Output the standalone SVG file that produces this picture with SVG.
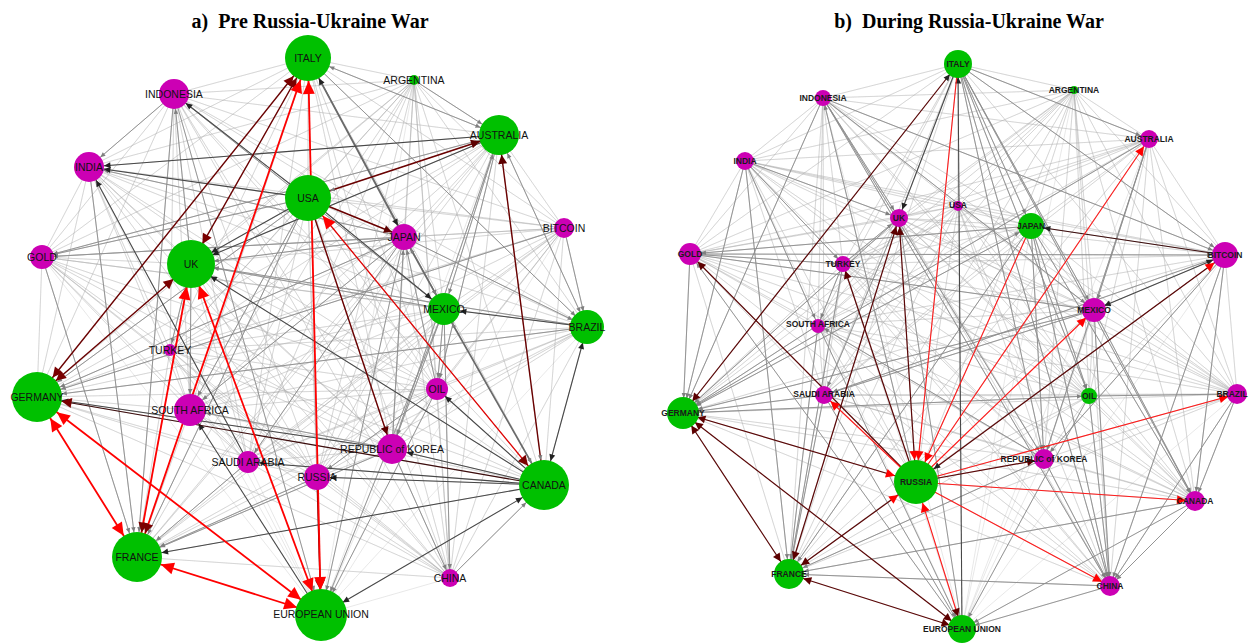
<svg xmlns="http://www.w3.org/2000/svg" width="1250" height="643" viewBox="0 0 1250 643">
<style>
  .title { font-family: "Liberation Serif", "Times New Roman", serif; font-weight: bold; font-size: 20px; fill: #000; text-anchor: middle; }
  .mesh { fill: none; stroke: #a8a8a8; stroke-opacity: 0.45; stroke-width: 0.6; stroke-linejoin: round; }
  line { fill: none; }
  .g  { stroke: #8c8c8c; stroke-width: 0.9; }
  .g2 { stroke: #6a6a6a; stroke-width: 1.6; }
  .k  { stroke: #474747; stroke-width: 1.05; }
  .d  { stroke: #6a0000; stroke-width: 1.4; }
  .d2 { stroke: #3c0c0c; stroke-width: 1.2; }
  .r  { stroke: #ff0000; stroke-width: 1.8; }
  .rt { stroke: #e00000; stroke-width: 1.3; }
  .s  { stroke: #ff1a1a; stroke-width: 1.1; }
  .ds { stroke: #5a0606; stroke-width: 1.2; }
  .gn { fill: #00c000; }
  .mg { fill: #cc00b4; }
  .la { font-family: "Liberation Sans", Arial, sans-serif; font-size: 10.5px; fill: #111; text-anchor: middle; }
  .lb { font-family: "Liberation Sans", Arial, sans-serif; font-size: 8.5px; font-weight: bold; fill: #1a1a1a; text-anchor: middle; }
</style>
<defs>
  <!-- arrowheads: tip sits N px back from the line end, N = radius of the target node -->
  <marker id="g7"  markerUnits="userSpaceOnUse" orient="auto-start-reverse" overflow="visible"><path d="M-12 -2.2L-7 0L-12 2.2z" fill="#7f7f7f"/></marker>
  <marker id="g9"  markerUnits="userSpaceOnUse" orient="auto-start-reverse" overflow="visible"><path d="M-14 -2.2L-9 0L-14 2.2z" fill="#7f7f7f"/></marker>
  <marker id="g11" markerUnits="userSpaceOnUse" orient="auto-start-reverse" overflow="visible"><path d="M-16 -2.2L-11 0L-16 2.2z" fill="#7f7f7f"/></marker>
  <marker id="g13" markerUnits="userSpaceOnUse" orient="auto-start-reverse" overflow="visible"><path d="M-18 -2.2L-13 0L-18 2.2z" fill="#7f7f7f"/></marker>
  <marker id="g15" markerUnits="userSpaceOnUse" orient="auto-start-reverse" overflow="visible"><path d="M-20 -2.2L-15 0L-20 2.2z" fill="#7f7f7f"/></marker>
  <marker id="g16" markerUnits="userSpaceOnUse" orient="auto-start-reverse" overflow="visible"><path d="M-21 -2.2L-16 0L-21 2.2z" fill="#7f7f7f"/></marker>
  <marker id="g20" markerUnits="userSpaceOnUse" orient="auto-start-reverse" overflow="visible"><path d="M-25 -2.2L-20 0L-25 2.2z" fill="#7f7f7f"/></marker>
  <marker id="g23" markerUnits="userSpaceOnUse" orient="auto-start-reverse" overflow="visible"><path d="M-28 -2.2L-23 0L-28 2.2z" fill="#7f7f7f"/></marker>
  <marker id="g25" markerUnits="userSpaceOnUse" orient="auto-start-reverse" overflow="visible"><path d="M-30 -2.2L-25 0L-30 2.2z" fill="#7f7f7f"/></marker>
  <marker id="k9"  markerUnits="userSpaceOnUse" orient="auto-start-reverse" overflow="visible"><path d="M-15.5 -3L-9 0L-15.5 3z" fill="#222"/></marker>
  <marker id="k11" markerUnits="userSpaceOnUse" orient="auto-start-reverse" overflow="visible"><path d="M-17.5 -3L-11 0L-17.5 3z" fill="#222"/></marker>
  <marker id="k13" markerUnits="userSpaceOnUse" orient="auto-start-reverse" overflow="visible"><path d="M-19.5 -3L-13 0L-19.5 3z" fill="#222"/></marker>
  <marker id="k15" markerUnits="userSpaceOnUse" orient="auto-start-reverse" overflow="visible"><path d="M-21.5 -3L-15 0L-21.5 3z" fill="#222"/></marker>
  <marker id="k16" markerUnits="userSpaceOnUse" orient="auto-start-reverse" overflow="visible"><path d="M-22.5 -3L-16 0L-22.5 3z" fill="#222"/></marker>
  <marker id="k22" markerUnits="userSpaceOnUse" orient="auto-start-reverse" overflow="visible"><path d="M-28.5 -3L-22 0L-28.5 3z" fill="#222"/></marker>
  <marker id="k23" markerUnits="userSpaceOnUse" orient="auto-start-reverse" overflow="visible"><path d="M-29.5 -3L-23 0L-29.5 3z" fill="#222"/></marker>
  <marker id="k25" markerUnits="userSpaceOnUse" orient="auto-start-reverse" overflow="visible"><path d="M-31.5 -3L-25 0L-31.5 3z" fill="#222"/></marker>
  <marker id="d7"  markerUnits="userSpaceOnUse" orient="auto-start-reverse" overflow="visible"><path d="M-15 -4L-7 0L-15 4z" fill="#5c0000"/></marker>
  <marker id="d9"  markerUnits="userSpaceOnUse" orient="auto-start-reverse" overflow="visible"><path d="M-17 -4L-9 0L-17 4z" fill="#5c0000"/></marker>
  <marker id="d11" markerUnits="userSpaceOnUse" orient="auto-start-reverse" overflow="visible"><path d="M-19 -4L-11 0L-19 4z" fill="#5c0000"/></marker>
  <marker id="d13" markerUnits="userSpaceOnUse" orient="auto-start-reverse" overflow="visible"><path d="M-21 -4L-13 0L-21 4z" fill="#5c0000"/></marker>
  <marker id="d15" markerUnits="userSpaceOnUse" orient="auto-start-reverse" overflow="visible"><path d="M-23 -4L-15 0L-23 4z" fill="#5c0000"/></marker>
  <marker id="d20" markerUnits="userSpaceOnUse" orient="auto-start-reverse" overflow="visible"><path d="M-29 -4.5L-20 0L-29 4.5z" fill="#5c0000"/></marker>
  <marker id="d23" markerUnits="userSpaceOnUse" orient="auto-start-reverse" overflow="visible"><path d="M-33 -5L-23 0L-33 5z" fill="#7a0000"/></marker>
  <marker id="d25" markerUnits="userSpaceOnUse" orient="auto-start-reverse" overflow="visible"><path d="M-35 -5L-25 0L-35 5z" fill="#7a0000"/></marker>
  <marker id="r23" markerUnits="userSpaceOnUse" orient="auto-start-reverse" overflow="visible"><path d="M-36 -6L-23 0L-36 6z" fill="#ff0000"/></marker>
  <marker id="r25" markerUnits="userSpaceOnUse" orient="auto-start-reverse" overflow="visible"><path d="M-38 -6L-25 0L-38 6z" fill="#ff0000"/></marker>
  <marker id="s9"  markerUnits="userSpaceOnUse" orient="auto-start-reverse" overflow="visible"><path d="M-18 -4.5L-9 0L-18 4.5z" fill="#ff0000"/></marker>
  <marker id="s11" markerUnits="userSpaceOnUse" orient="auto-start-reverse" overflow="visible"><path d="M-20 -4.5L-11 0L-20 4.5z" fill="#ff0000"/></marker>
  <marker id="s13" markerUnits="userSpaceOnUse" orient="auto-start-reverse" overflow="visible"><path d="M-22 -4.5L-13 0L-22 4.5z" fill="#ff0000"/></marker>
  <marker id="s22" markerUnits="userSpaceOnUse" orient="auto-start-reverse" overflow="visible"><path d="M-31 -4.5L-22 0L-31 4.5z" fill="#ff0000"/></marker>
</defs>

<rect width="1250" height="643" fill="#fff"/>

<text class="title" x="310" y="28" xml:space="preserve">a)  Pre Russia-Ukraine War</text>
<text class="title" x="969" y="28" xml:space="preserve">b)  During Russia-Ukraine War</text>

<!-- ===== panel a: connectors ===== -->
<g id="edges-a">
  <path class="mesh" d="M308 58L174 94 308 58 414 80 308 58 499 135 308 58 89 167 308 58 308 198 308 58 564 228 308 58 404 237 308 58 42 257 308 58 191 264 308 58 444 309 308 58 587 327 308 58 170 350 308 58 437 389 308 58 37 397 308 58 190 410 308 58 392 449 308 58 248 462 308 58 317 477 308 58 544 485 308 58 137 557 308 58 450 578 308 58 321 615"/>
  <path class="mesh" d="M174 94L414 80 174 94 499 135 174 94 89 167 174 94 308 198 174 94 564 228 174 94 404 237 174 94 42 257 174 94 191 264 174 94 444 309 174 94 587 327 174 94 170 350 174 94 437 389 174 94 37 397 174 94 190 410 174 94 392 449 174 94 248 462 174 94 317 477 174 94 544 485 174 94 137 557 174 94 450 578 174 94 321 615"/>
  <path class="mesh" d="M414 80L499 135 414 80 89 167 414 80 308 198 414 80 564 228 414 80 404 237 414 80 42 257 414 80 191 264 414 80 444 309 414 80 587 327 414 80 170 350 414 80 437 389 414 80 37 397 414 80 190 410 414 80 392 449 414 80 248 462 414 80 317 477 414 80 544 485 414 80 137 557 414 80 450 578 414 80 321 615"/>
  <path class="mesh" d="M499 135L89 167 499 135 308 198 499 135 564 228 499 135 404 237 499 135 42 257 499 135 191 264 499 135 444 309 499 135 587 327 499 135 170 350 499 135 437 389 499 135 37 397 499 135 190 410 499 135 392 449 499 135 248 462 499 135 317 477 499 135 544 485 499 135 137 557 499 135 450 578 499 135 321 615"/>
  <path class="mesh" d="M89 167L308 198 89 167 564 228 89 167 404 237 89 167 42 257 89 167 191 264 89 167 444 309 89 167 587 327 89 167 170 350 89 167 437 389 89 167 37 397 89 167 190 410 89 167 392 449 89 167 248 462 89 167 317 477 89 167 544 485 89 167 137 557 89 167 450 578 89 167 321 615"/>
  <path class="mesh" d="M308 198L564 228 308 198 404 237 308 198 42 257 308 198 191 264 308 198 444 309 308 198 587 327 308 198 170 350 308 198 437 389 308 198 37 397 308 198 190 410 308 198 392 449 308 198 248 462 308 198 317 477 308 198 544 485 308 198 137 557 308 198 450 578 308 198 321 615"/>
  <path class="mesh" d="M564 228L404 237 564 228 42 257 564 228 191 264 564 228 444 309 564 228 587 327 564 228 170 350 564 228 437 389 564 228 37 397 564 228 190 410 564 228 392 449 564 228 248 462 564 228 317 477 564 228 544 485 564 228 137 557 564 228 450 578 564 228 321 615"/>
  <path class="mesh" d="M404 237L42 257 404 237 191 264 404 237 444 309 404 237 587 327 404 237 170 350 404 237 437 389 404 237 37 397 404 237 190 410 404 237 392 449 404 237 248 462 404 237 317 477 404 237 544 485 404 237 137 557 404 237 450 578 404 237 321 615"/>
  <path class="mesh" d="M42 257L191 264 42 257 444 309 42 257 587 327 42 257 170 350 42 257 437 389 42 257 37 397 42 257 190 410 42 257 392 449 42 257 248 462 42 257 317 477 42 257 544 485 42 257 137 557 42 257 450 578 42 257 321 615"/>
  <path class="mesh" d="M191 264L444 309 191 264 587 327 191 264 170 350 191 264 437 389 191 264 37 397 191 264 190 410 191 264 392 449 191 264 248 462 191 264 317 477 191 264 544 485 191 264 137 557 191 264 450 578 191 264 321 615"/>
  <path class="mesh" d="M444 309L587 327 444 309 170 350 444 309 437 389 444 309 37 397 444 309 190 410 444 309 392 449 444 309 248 462 444 309 317 477 444 309 544 485 444 309 137 557 444 309 450 578 444 309 321 615"/>
  <path class="mesh" d="M587 327L170 350 587 327 437 389 587 327 37 397 587 327 190 410 587 327 392 449 587 327 248 462 587 327 317 477 587 327 544 485 587 327 137 557 587 327 450 578 587 327 321 615"/>
  <path class="mesh" d="M170 350L437 389 170 350 37 397 170 350 190 410 170 350 392 449 170 350 248 462 170 350 317 477 170 350 544 485 170 350 137 557 170 350 450 578 170 350 321 615"/>
  <path class="mesh" d="M437 389L37 397 437 389 190 410 437 389 392 449 437 389 248 462 437 389 317 477 437 389 544 485 437 389 137 557 437 389 450 578 437 389 321 615"/>
  <path class="mesh" d="M37 397L190 410 37 397 392 449 37 397 248 462 37 397 317 477 37 397 544 485 37 397 137 557 37 397 450 578 37 397 321 615"/>
  <path class="mesh" d="M190 410L392 449 190 410 248 462 190 410 317 477 190 410 544 485 190 410 137 557 190 410 450 578 190 410 321 615"/>
  <path class="mesh" d="M392 449L248 462 392 449 317 477 392 449 544 485 392 449 137 557 392 449 450 578 392 449 321 615"/>
  <path class="mesh" d="M248 462L317 477 248 462 544 485 248 462 137 557 248 462 450 578 248 462 321 615"/>
  <path class="mesh" d="M317 477L544 485 317 477 137 557 317 477 450 578 317 477 321 615"/>
  <path class="mesh" d="M544 485L137 557 544 485 450 578 544 485 321 615 M137 557L450 578 137 557 321 615 M450 578L321 615"/>

  <line class="g" x1="308" y1="58" x2="499" y2="135" marker-start="url(#g23)" marker-end="url(#g20)"/>
  <line class="g" x1="308" y1="58" x2="587" y2="327" marker-end="url(#g16)"/>
  <line class="g" x1="414" y1="80" x2="499" y2="135" marker-end="url(#g20)"/>
  <line class="g" x1="499" y1="135" x2="587" y2="327" marker-start="url(#g20)" marker-end="url(#g16)"/>
  <line class="g" x1="499" y1="135" x2="444" y2="309" marker-start="url(#g20)" marker-end="url(#g16)"/>
  <line class="g" x1="499" y1="135" x2="392" y2="449" marker-end="url(#g15)"/>
  <line class="g" x1="499" y1="135" x2="437" y2="389" marker-end="url(#g11)"/>
  <line class="g" x1="564" y1="228" x2="587" y2="327" marker-end="url(#g16)"/>
  <line class="g" x1="404" y1="237" x2="587" y2="327" marker-end="url(#g16)"/>
  <line class="g" x1="444" y1="309" x2="437" y2="389" marker-end="url(#g11)"/>
  <line class="g" x1="587" y1="327" x2="37" y2="397" marker-end="url(#g25)"/>
  <line class="g" x1="587" y1="327" x2="191" y2="264" marker-end="url(#g23)"/>
  <line class="g" x1="450" y1="578" x2="544" y2="485" marker-end="url(#g25)"/>
  <line class="g" x1="392" y1="449" x2="450" y2="578" marker-end="url(#g9)"/>
  <line class="g" x1="444" y1="309" x2="321" y2="615" marker-end="url(#g25)"/>
  <line class="g" x1="437" y1="389" x2="321" y2="615" marker-end="url(#g25)"/>
  <line class="g" x1="248" y1="462" x2="137" y2="557" marker-end="url(#g25)"/>
  <line class="g" x1="392" y1="449" x2="137" y2="557" marker-end="url(#g25)"/>
  <line class="g" x1="317" y1="477" x2="137" y2="557" marker-end="url(#g25)"/>
  <line class="g" x1="308" y1="198" x2="37" y2="397" marker-end="url(#g25)"/>
  <line class="g" x1="404" y1="237" x2="37" y2="397" marker-end="url(#g25)"/>
  <line class="g" x1="404" y1="237" x2="42" y2="257" marker-end="url(#g11)"/>
  <line class="g" x1="308" y1="198" x2="42" y2="257" marker-end="url(#g11)"/>
  <line class="g" x1="499" y1="135" x2="42" y2="257" marker-end="url(#g11)"/>
  <line class="g" x1="404" y1="237" x2="89" y2="167" marker-end="url(#g15)"/>
  <line class="g" x1="191" y1="264" x2="190" y2="410" marker-end="url(#g16)"/>
  <line class="g" x1="308" y1="198" x2="190" y2="410" marker-end="url(#g16)"/>
  <line class="g" x1="404" y1="237" x2="190" y2="410" marker-end="url(#g16)"/>
  <line class="g" x1="392" y1="449" x2="404" y2="237" marker-end="url(#g13)"/>
  <line class="g" x1="437" y1="389" x2="404" y2="237" marker-end="url(#g13)"/>
  <line class="g" x1="444" y1="309" x2="191" y2="264" marker-end="url(#g23)"/>
  <line class="g" x1="404" y1="237" x2="191" y2="264" marker-end="url(#g23)"/>
  <line class="g" x1="444" y1="309" x2="392" y2="449" marker-end="url(#g15)"/>
  <line class="g" x1="191" y1="264" x2="170" y2="350" marker-end="url(#g7)"/>
  <line class="g" x1="42" y1="257" x2="137" y2="557" marker-end="url(#g25)"/>
  <line class="g" x1="89" y1="167" x2="137" y2="557" marker-end="url(#g25)"/>
  <line class="g" x1="174" y1="94" x2="137" y2="557" marker-end="url(#g25)"/>
  <line class="g" x1="174" y1="94" x2="321" y2="615" marker-end="url(#g25)"/>
  <line class="g" x1="308" y1="198" x2="137" y2="557" marker-end="url(#g25)"/>
  <line class="g" x1="564" y1="228" x2="37" y2="397" marker-end="url(#g25)"/>
  <line class="g" x1="308" y1="58" x2="444" y2="309" marker-end="url(#g16)"/>
  <line class="g" x1="174" y1="94" x2="89" y2="167" marker-end="url(#g15)"/>
  <line class="g" x1="392" y1="449" x2="190" y2="410" marker-end="url(#g16)"/>
  <line class="g" x1="404" y1="237" x2="248" y2="462" marker-end="url(#g11)"/>
  <line class="g" x1="437" y1="389" x2="317" y2="477" marker-end="url(#g13)"/>
  <line class="g" x1="404" y1="237" x2="321" y2="615" marker-end="url(#g25)"/>
  <line class="g" x1="444" y1="309" x2="450" y2="578" marker-end="url(#g9)"/>
  <line class="g" x1="191" y1="264" x2="174" y2="94" marker-end="url(#g15)"/>
  <line class="g" x1="444" y1="309" x2="174" y2="94" marker-end="url(#g15)"/>
  <line class="g2" x1="444" y1="309" x2="544" y2="485" marker-start="url(#g16)" marker-end="url(#g25)"/>
  <line class="g2" x1="404" y1="237" x2="444" y2="309" marker-start="url(#g13)" marker-end="url(#g16)"/>
  <line class="g2" x1="308" y1="58" x2="404" y2="237" marker-start="url(#k23)" marker-end="url(#k13)"/>

  <line class="k" x1="544" y1="485" x2="137" y2="557" marker-end="url(#k25)"/>
  <line class="k" x1="321" y1="615" x2="544" y2="485" marker-start="url(#k25)" marker-end="url(#k25)"/>
  <line class="k" x1="587" y1="327" x2="544" y2="485" marker-start="url(#k16)" marker-end="url(#k25)"/>
  <line class="k" x1="308" y1="198" x2="444" y2="309" marker-end="url(#k16)"/>
  <line class="k" x1="308" y1="198" x2="191" y2="264" marker-end="url(#k23)"/>
  <line class="k" x1="499" y1="135" x2="191" y2="264" marker-end="url(#k23)"/>
  <line class="k" x1="308" y1="198" x2="174" y2="94" marker-end="url(#k15)"/>
  <line class="k" x1="308" y1="198" x2="89" y2="167" marker-end="url(#k15)"/>
  <line class="k" x1="499" y1="135" x2="89" y2="167" marker-end="url(#k15)"/>
  <line class="k" x1="544" y1="485" x2="392" y2="449" marker-end="url(#k15)"/>
  <line class="k" x1="544" y1="485" x2="317" y2="477" marker-end="url(#k13)"/>
  <line class="k" x1="544" y1="485" x2="248" y2="462" marker-end="url(#k11)"/>
  <line class="k" x1="392" y1="449" x2="37" y2="397" marker-end="url(#k25)"/>
  <line class="k" x1="321" y1="615" x2="190" y2="410" marker-end="url(#k16)"/>
  <line class="k" x1="544" y1="485" x2="437" y2="389" marker-end="url(#k11)"/>
  <line class="k" x1="587" y1="327" x2="444" y2="309" marker-end="url(#k16)"/>
  <line class="k" x1="544" y1="485" x2="191" y2="264" marker-end="url(#k23)"/>
  <line class="k" x1="248" y1="462" x2="89" y2="167" marker-end="url(#k15)"/>

  <line class="d" x1="37" y1="397" x2="308" y2="58" marker-start="url(#d25)" marker-end="url(#d23)"/>
  <line class="d" x1="37" y1="397" x2="191" y2="264" marker-start="url(#d25)" marker-end="url(#d23)"/>
  <line class="d" x1="308" y1="58" x2="191" y2="264" marker-start="url(#d23)" marker-end="url(#d23)"/>
  <line class="d" x1="308" y1="198" x2="499" y2="135" marker-start="url(#g23)" marker-end="url(#d20)"/>
  <line class="d" x1="308" y1="198" x2="404" y2="237" marker-end="url(#d13)"/>
  <line class="d" x1="308" y1="198" x2="392" y2="449" marker-end="url(#d15)"/>
  <line class="d" x1="544" y1="485" x2="499" y2="135" marker-start="url(#g25)" marker-end="url(#d20)"/>
  <line class="d" x1="317" y1="477" x2="321" y2="615" marker-end="url(#d25)"/>
  <line class="d2" x1="544" y1="485" x2="37" y2="397" marker-end="url(#d25)"/>

  <line class="rt" x1="308" y1="198" x2="544" y2="485" marker-start="url(#r23)" marker-end="url(#d25)"/>
  <line class="r" x1="37" y1="397" x2="137" y2="557" marker-start="url(#r25)" marker-end="url(#r25)"/>
  <line class="r" x1="37" y1="397" x2="321" y2="615" marker-start="url(#r25)" marker-end="url(#r25)"/>
  <line class="r" x1="137" y1="557" x2="321" y2="615" marker-start="url(#r25)" marker-end="url(#r25)"/>
  <line class="r" x1="191" y1="264" x2="321" y2="615" marker-start="url(#r23)" marker-end="url(#r25)"/>
  <line class="r" x1="137" y1="557" x2="191" y2="264" marker-start="url(#d25)" marker-end="url(#r23)"/>
  <line class="r" x1="137" y1="557" x2="308" y2="58" marker-start="url(#d25)" marker-end="url(#r23)"/>
  <line class="r" x1="308" y1="58" x2="321" y2="615" marker-start="url(#r23)" marker-end="url(#r25)"/>
</g>

<!-- ===== panel a: nodes ===== -->
<g id="a-italy"><circle class="gn" cx="308" cy="58" r="23"/><text class="la" x="308" y="62">ITALY</text></g>
<g id="a-indonesia"><circle class="mg" cx="174" cy="94" r="15"/><text class="la" x="174" y="98">INDONESIA</text></g>
<g id="a-argentina"><circle class="gn" cx="414" cy="80" r="5"/><text class="la" x="414" y="84">ARGENTINA</text></g>
<g id="a-australia"><circle class="gn" cx="499" cy="135" r="20"/><text class="la" x="499" y="139">AUSTRALIA</text></g>
<g id="a-india"><circle class="mg" cx="89" cy="167" r="15"/><text class="la" x="89" y="171">INDIA</text></g>
<g id="a-usa"><circle class="gn" cx="308" cy="198" r="23"/><text class="la" x="308" y="202">USA</text></g>
<g id="a-bitcoin"><circle class="mg" cx="564" cy="228" r="10"/><text class="la" x="564" y="232">BITCOIN</text></g>
<g id="a-japan"><circle class="mg" cx="404" cy="237" r="13"/><text class="la" x="404" y="241">JAPAN</text></g>
<g id="a-gold"><circle class="mg" cx="42" cy="257" r="12"/><text class="la" x="42" y="261">GOLD</text></g>
<g id="a-uk"><circle class="gn" cx="191" cy="264" r="24"/><text class="la" x="191" y="268">UK</text></g>
<g id="a-mexico"><circle class="gn" cx="444" cy="309" r="16"/><text class="la" x="444" y="313">MEXICO</text></g>
<g id="a-brazil"><circle class="gn" cx="587" cy="327" r="17"/><text class="la" x="587" y="331">BRAZIL</text></g>
<g id="a-turkey"><circle class="mg" cx="170" cy="350" r="6"/><text class="la" x="170" y="354">TURKEY</text></g>
<g id="a-oil"><circle class="mg" cx="437" cy="389" r="11"/><text class="la" x="437" y="393">OIL</text></g>
<g id="a-germany"><circle class="gn" cx="37" cy="397" r="25"/><text class="la" x="37" y="401">GERMANY</text></g>
<g id="a-south-africa"><circle class="mg" cx="190" cy="410" r="16"/><text class="la" x="190" y="414">SOUTH AFRICA</text></g>
<g id="a-korea"><circle class="mg" cx="392" cy="449" r="15"/><text class="la" x="392" y="453">REPUBLIC of KOREA</text></g>
<g id="a-saudi-arabia"><circle class="mg" cx="248" cy="462" r="11"/><text class="la" x="248" y="466">SAUDI ARABIA</text></g>
<g id="a-russia"><circle class="mg" cx="317" cy="477" r="13"/><text class="la" x="317" y="481">RUSSIA</text></g>
<g id="a-canada"><circle class="gn" cx="544" cy="485" r="25"/><text class="la" x="544" y="489">CANADA</text></g>
<g id="a-france"><circle class="gn" cx="137" cy="557" r="25"/><text class="la" x="137" y="561">FRANCE</text></g>
<g id="a-china"><circle class="mg" cx="450" cy="578" r="9"/><text class="la" x="450" y="582">CHINA</text></g>
<g id="a-eu"><circle class="gn" cx="321" cy="615" r="26"/><text class="la" x="321" y="618">EUROPEAN UNION</text></g>

<!-- ===== panel b: connectors ===== -->
<g id="edges-b">
  <path class="mesh" d="M958 64L823 98 958 64 1074 90 958 64 1149 139 958 64 745 161 958 64 958 206 958 64 899 218 958 64 1031 226 958 64 690 254 958 64 1225 255 958 64 843 264 958 64 1094 310 958 64 818 325 958 64 824 395 958 64 1089 396 958 64 1237 394 958 64 683 413 958 64 1044 459 958 64 916 482 958 64 1195 501 958 64 789 574 958 64 1110 586 958 64 962 629"/>
  <path class="mesh" d="M823 98L1074 90 823 98 1149 139 823 98 745 161 823 98 958 206 823 98 899 218 823 98 1031 226 823 98 690 254 823 98 1225 255 823 98 843 264 823 98 1094 310 823 98 818 325 823 98 824 395 823 98 1089 396 823 98 1237 394 823 98 683 413 823 98 1044 459 823 98 916 482 823 98 1195 501 823 98 789 574 823 98 1110 586 823 98 962 629"/>
  <path class="mesh" d="M1074 90L1149 139 1074 90 745 161 1074 90 958 206 1074 90 899 218 1074 90 1031 226 1074 90 690 254 1074 90 1225 255 1074 90 843 264 1074 90 1094 310 1074 90 818 325 1074 90 824 395 1074 90 1089 396 1074 90 1237 394 1074 90 683 413 1074 90 1044 459 1074 90 916 482 1074 90 1195 501 1074 90 789 574 1074 90 1110 586 1074 90 962 629"/>
  <path class="mesh" d="M1149 139L745 161 1149 139 958 206 1149 139 899 218 1149 139 1031 226 1149 139 690 254 1149 139 1225 255 1149 139 843 264 1149 139 1094 310 1149 139 818 325 1149 139 824 395 1149 139 1089 396 1149 139 1237 394 1149 139 683 413 1149 139 1044 459 1149 139 916 482 1149 139 1195 501 1149 139 789 574 1149 139 1110 586 1149 139 962 629"/>
  <path class="mesh" d="M745 161L958 206 745 161 899 218 745 161 1031 226 745 161 690 254 745 161 1225 255 745 161 843 264 745 161 1094 310 745 161 818 325 745 161 824 395 745 161 1089 396 745 161 1237 394 745 161 683 413 745 161 1044 459 745 161 916 482 745 161 1195 501 745 161 789 574 745 161 1110 586 745 161 962 629"/>
  <path class="mesh" d="M958 206L899 218 958 206 1031 226 958 206 690 254 958 206 1225 255 958 206 843 264 958 206 1094 310 958 206 818 325 958 206 824 395 958 206 1089 396 958 206 1237 394 958 206 683 413 958 206 1044 459 958 206 916 482 958 206 1195 501 958 206 789 574 958 206 1110 586 958 206 962 629"/>
  <path class="mesh" d="M899 218L1031 226 899 218 690 254 899 218 1225 255 899 218 843 264 899 218 1094 310 899 218 818 325 899 218 824 395 899 218 1089 396 899 218 1237 394 899 218 683 413 899 218 1044 459 899 218 916 482 899 218 1195 501 899 218 789 574 899 218 1110 586 899 218 962 629"/>
  <path class="mesh" d="M1031 226L690 254 1031 226 1225 255 1031 226 843 264 1031 226 1094 310 1031 226 818 325 1031 226 824 395 1031 226 1089 396 1031 226 1237 394 1031 226 683 413 1031 226 1044 459 1031 226 916 482 1031 226 1195 501 1031 226 789 574 1031 226 1110 586 1031 226 962 629"/>
  <path class="mesh" d="M690 254L1225 255 690 254 843 264 690 254 1094 310 690 254 818 325 690 254 824 395 690 254 1089 396 690 254 1237 394 690 254 683 413 690 254 1044 459 690 254 916 482 690 254 1195 501 690 254 789 574 690 254 1110 586 690 254 962 629"/>
  <path class="mesh" d="M1225 255L843 264 1225 255 1094 310 1225 255 818 325 1225 255 824 395 1225 255 1089 396 1225 255 1237 394 1225 255 683 413 1225 255 1044 459 1225 255 916 482 1225 255 1195 501 1225 255 789 574 1225 255 1110 586 1225 255 962 629"/>
  <path class="mesh" d="M843 264L1094 310 843 264 818 325 843 264 824 395 843 264 1089 396 843 264 1237 394 843 264 683 413 843 264 1044 459 843 264 916 482 843 264 1195 501 843 264 789 574 843 264 1110 586 843 264 962 629"/>
  <path class="mesh" d="M1094 310L818 325 1094 310 824 395 1094 310 1089 396 1094 310 1237 394 1094 310 683 413 1094 310 1044 459 1094 310 916 482 1094 310 1195 501 1094 310 789 574 1094 310 1110 586 1094 310 962 629"/>
  <path class="mesh" d="M818 325L824 395 818 325 1089 396 818 325 1237 394 818 325 683 413 818 325 1044 459 818 325 916 482 818 325 1195 501 818 325 789 574 818 325 1110 586 818 325 962 629"/>
  <path class="mesh" d="M824 395L1089 396 824 395 1237 394 824 395 683 413 824 395 1044 459 824 395 916 482 824 395 1195 501 824 395 789 574 824 395 1110 586 824 395 962 629"/>
  <path class="mesh" d="M1089 396L1237 394 1089 396 683 413 1089 396 1044 459 1089 396 916 482 1089 396 1195 501 1089 396 789 574 1089 396 1110 586 1089 396 962 629"/>
  <path class="mesh" d="M1237 394L683 413 1237 394 1044 459 1237 394 916 482 1237 394 1195 501 1237 394 789 574 1237 394 1110 586 1237 394 962 629"/>
  <path class="mesh" d="M683 413L1044 459 683 413 916 482 683 413 1195 501 683 413 789 574 683 413 1110 586 683 413 962 629"/>
  <path class="mesh" d="M1044 459L916 482 1044 459 1195 501 1044 459 789 574 1044 459 1110 586 1044 459 962 629"/>
  <path class="mesh" d="M916 482L1195 501 916 482 789 574 916 482 1110 586 916 482 962 629"/>
  <path class="mesh" d="M1195 501L789 574 1195 501 1110 586 1195 501 962 629 M789 574L1110 586 789 574 962 629 M1110 586L962 629"/>

  <line class="g" x1="683" y1="413" x2="1089" y2="396" marker-end="url(#g7)"/>
  <line class="g" x1="1089" y1="396" x2="1237" y2="394" marker-end="url(#g9)"/>
  <line class="g" x1="958" y1="64" x2="1149" y2="139" marker-end="url(#g9)"/>
  <line class="g" x1="958" y1="64" x2="1094" y2="310" marker-end="url(#g11)"/>
  <line class="g" x1="958" y1="64" x2="1225" y2="255" marker-end="url(#g13)"/>
  <line class="g" x1="958" y1="64" x2="1195" y2="501" marker-end="url(#g9)"/>
  <line class="g" x1="958" y1="64" x2="1110" y2="586" marker-end="url(#g9)"/>
  <line class="g" x1="958" y1="64" x2="1044" y2="459" marker-end="url(#g9)"/>
  <line class="g" x1="958" y1="64" x2="1089" y2="396" marker-end="url(#g7)"/>
  <line class="g" x1="958" y1="64" x2="1031" y2="226" marker-end="url(#g13)"/>
  <line class="g" x1="823" y1="98" x2="899" y2="218" marker-end="url(#g9)"/>
  <line class="g" x1="823" y1="98" x2="1110" y2="586" marker-end="url(#g9)"/>
  <line class="g" x1="823" y1="98" x2="1094" y2="310" marker-end="url(#g11)"/>
  <line class="g" x1="823" y1="98" x2="1225" y2="255" marker-end="url(#g13)"/>
  <line class="g" x1="823" y1="98" x2="1044" y2="459" marker-end="url(#g9)"/>
  <line class="g" x1="745" y1="161" x2="899" y2="218" marker-end="url(#g9)"/>
  <line class="g" x1="745" y1="161" x2="843" y2="264" marker-end="url(#g7)"/>
  <line class="g" x1="745" y1="161" x2="789" y2="574" marker-end="url(#g15)"/>
  <line class="g" x1="745" y1="161" x2="818" y2="325" marker-end="url(#g7)"/>
  <line class="g" x1="690" y1="254" x2="1225" y2="255" marker-end="url(#g13)"/>
  <line class="g" x1="690" y1="254" x2="843" y2="264" marker-end="url(#g7)"/>
  <line class="g" x1="690" y1="254" x2="1094" y2="310" marker-end="url(#g11)"/>
  <line class="g" x1="1031" y1="226" x2="1044" y2="459" marker-end="url(#g9)"/>
  <line class="g" x1="1031" y1="226" x2="1110" y2="586" marker-end="url(#g9)"/>
  <line class="g" x1="1031" y1="226" x2="1195" y2="501" marker-end="url(#g9)"/>
  <line class="g" x1="1031" y1="226" x2="1089" y2="396" marker-end="url(#g7)"/>
  <line class="g" x1="1031" y1="226" x2="683" y2="413" marker-start="url(#g13)" marker-end="url(#g15)"/>
  <line class="g" x1="1031" y1="226" x2="789" y2="574" marker-end="url(#g15)"/>
  <line class="g" x1="1149" y1="139" x2="1094" y2="310" marker-end="url(#g11)"/>
  <line class="g" x1="1149" y1="139" x2="1044" y2="459" marker-end="url(#g9)"/>
  <line class="g" x1="1149" y1="139" x2="683" y2="413" marker-end="url(#g15)"/>
  <line class="g" x1="1225" y1="255" x2="1195" y2="501" marker-end="url(#g9)"/>
  <line class="g" x1="1225" y1="255" x2="1110" y2="586" marker-end="url(#g9)"/>
  <line class="g" x1="1225" y1="255" x2="1044" y2="459" marker-end="url(#g9)"/>
  <line class="g" x1="1225" y1="255" x2="824" y2="395" marker-end="url(#g9)"/>
  <line class="g" x1="1094" y1="310" x2="1110" y2="586" marker-end="url(#g9)"/>
  <line class="g" x1="1094" y1="310" x2="1195" y2="501" marker-end="url(#g9)"/>
  <line class="g" x1="1094" y1="310" x2="683" y2="413" marker-end="url(#g15)"/>
  <line class="g" x1="1094" y1="310" x2="824" y2="395" marker-end="url(#g9)"/>
  <line class="g" x1="1237" y1="394" x2="1195" y2="501" marker-end="url(#g9)"/>
  <line class="g" x1="1237" y1="394" x2="1110" y2="586" marker-end="url(#g9)"/>
  <line class="g" x1="1044" y1="459" x2="1110" y2="586" marker-end="url(#g9)"/>
  <line class="g" x1="1044" y1="459" x2="789" y2="574" marker-end="url(#g15)"/>
  <line class="g" x1="1044" y1="459" x2="818" y2="325" marker-end="url(#g7)"/>
  <line class="g" x1="1195" y1="501" x2="1110" y2="586" marker-end="url(#g9)"/>
  <line class="g" x1="1195" y1="501" x2="962" y2="629" marker-end="url(#g13)"/>
  <line class="g" x1="1195" y1="501" x2="789" y2="574" marker-end="url(#g15)"/>
  <line class="g" x1="1110" y1="586" x2="962" y2="629" marker-end="url(#g13)"/>
  <line class="g" x1="1110" y1="586" x2="789" y2="574" marker-end="url(#g15)"/>
  <line class="g" x1="818" y1="325" x2="683" y2="413" marker-end="url(#g15)"/>
  <line class="g" x1="818" y1="325" x2="789" y2="574" marker-end="url(#g15)"/>
  <line class="g" x1="818" y1="325" x2="962" y2="629" marker-end="url(#g13)"/>
  <line class="g" x1="824" y1="395" x2="683" y2="413" marker-end="url(#g15)"/>
  <line class="g" x1="824" y1="395" x2="789" y2="574" marker-end="url(#g15)"/>
  <line class="g" x1="824" y1="395" x2="962" y2="629" marker-end="url(#g13)"/>
  <line class="g" x1="843" y1="264" x2="899" y2="218" marker-end="url(#g9)"/>
  <line class="g" x1="843" y1="264" x2="818" y2="325" marker-end="url(#g7)"/>
  <line class="g" x1="843" y1="264" x2="789" y2="574" marker-end="url(#g15)"/>
  <line class="g" x1="899" y1="218" x2="683" y2="413" marker-end="url(#g15)"/>
  <line class="g" x1="899" y1="218" x2="824" y2="395" marker-end="url(#g9)"/>
  <line class="g" x1="1089" y1="396" x2="962" y2="629" marker-end="url(#g13)"/>
  <line class="g" x1="1089" y1="396" x2="1110" y2="586" marker-end="url(#g9)"/>
  <line class="g" x1="690" y1="254" x2="683" y2="413" marker-end="url(#g15)"/>
  <line class="g" x1="745" y1="161" x2="683" y2="413" marker-end="url(#g15)"/>
  <line class="g" x1="823" y1="98" x2="683" y2="413" marker-end="url(#g15)"/>
  <line class="g" x1="1031" y1="226" x2="690" y2="254" marker-end="url(#g11)"/>
  <line class="g" x1="962" y1="629" x2="690" y2="254" marker-end="url(#g11)"/>
  <line class="g" x1="962" y1="629" x2="899" y2="218" marker-end="url(#g9)"/>
  <line class="g" x1="916" y1="482" x2="823" y2="98" marker-end="url(#g7)"/>

  <line class="k" x1="962" y1="629" x2="958" y2="64" marker-end="url(#k13)"/>
  <line class="d2" x1="1225" y1="255" x2="1031" y2="226" marker-end="url(#k13)"/>
  <line class="k" x1="1094" y1="310" x2="1225" y2="255" marker-start="url(#k11)" marker-end="url(#k13)"/>
  <line class="k" x1="958" y1="64" x2="899" y2="218" marker-end="url(#k9)"/>

  <line class="ds" x1="916" y1="482" x2="1044" y2="459" marker-end="url(#d9)"/>
  <line class="ds" x1="916" y1="482" x2="690" y2="254" marker-end="url(#d11)"/>
  <line class="ds" x1="916" y1="482" x2="843" y2="264" marker-end="url(#d7)"/>
  <line class="ds" x1="899" y1="218" x2="916" y2="482" marker-start="url(#d9)" marker-end="url(#s22)"/>
  <line class="ds" x1="958" y1="64" x2="683" y2="413" marker-start="url(#k13)" marker-end="url(#d15)"/>
  <line class="ds" x1="899" y1="218" x2="789" y2="574" marker-start="url(#d9)" marker-end="url(#d15)"/>
  <line class="ds" x1="683" y1="413" x2="789" y2="574" marker-start="url(#d15)" marker-end="url(#d15)"/>
  <line class="ds" x1="683" y1="413" x2="962" y2="629" marker-start="url(#d15)" marker-end="url(#d13)"/>
  <line class="ds" x1="789" y1="574" x2="962" y2="629" marker-start="url(#d15)" marker-end="url(#d13)"/>
  <line class="ds" x1="683" y1="413" x2="916" y2="482" marker-start="url(#d15)" marker-end="url(#s22)"/>
  <line class="ds" x1="789" y1="574" x2="916" y2="482" marker-start="url(#d15)" marker-end="url(#s22)"/>
  <line class="ds" x1="1225" y1="255" x2="916" y2="482" marker-start="url(#s13)" marker-end="url(#k22)"/>

  <line class="s" x1="916" y1="482" x2="1149" y2="139" marker-end="url(#s9)"/>
  <line class="s" x1="916" y1="482" x2="1094" y2="310" marker-end="url(#s11)"/>
  <line class="s" x1="916" y1="482" x2="1237" y2="394" marker-end="url(#s9)"/>
  <line class="s" x1="916" y1="482" x2="1195" y2="501" marker-end="url(#s9)"/>
  <line class="s" x1="916" y1="482" x2="1110" y2="586" marker-end="url(#s9)"/>
  <line class="s" x1="916" y1="482" x2="824" y2="395" marker-end="url(#s9)"/>
  <line class="s" x1="958" y1="64" x2="916" y2="482" marker-end="url(#s22)"/>
  <line class="s" x1="1031" y1="226" x2="916" y2="482" marker-end="url(#s22)"/>
  <line class="s" x1="962" y1="629" x2="916" y2="482" marker-start="url(#d13)" marker-end="url(#s22)"/>
</g>

<!-- ===== panel b: nodes ===== -->
<g id="b-italy"><circle class="gn" cx="958" cy="64" r="14"/><text class="lb" x="958" y="67">ITALY</text></g>
<g id="b-indonesia"><circle class="mg" cx="823" cy="98" r="8"/><text class="lb" x="823" y="101">INDONESIA</text></g>
<g id="b-argentina"><circle class="gn" cx="1074" cy="90" r="4"/><text class="lb" x="1074" y="93">ARGENTINA</text></g>
<g id="b-australia"><circle class="mg" cx="1149" cy="139" r="9"/><text class="lb" x="1149" y="142">AUSTRALIA</text></g>
<g id="b-india"><circle class="mg" cx="745" cy="161" r="9"/><text class="lb" x="745" y="164">INDIA</text></g>
<g id="b-usa"><circle class="mg" cx="958" cy="206" r="5"/><text class="lb" x="958" y="208">USA</text></g>
<g id="b-uk"><circle class="mg" cx="899" cy="218" r="9"/><text class="lb" x="899" y="221">UK</text></g>
<g id="b-japan"><circle class="gn" cx="1031" cy="226" r="13"/><text class="lb" x="1031" y="229">JAPAN</text></g>
<g id="b-gold"><circle class="mg" cx="690" cy="254" r="11"/><text class="lb" x="690" y="257">GOLD</text></g>
<g id="b-bitcoin"><circle class="mg" cx="1225" cy="255" r="13"/><text class="lb" x="1225" y="258">BITCOIN</text></g>
<g id="b-turkey"><circle class="mg" cx="843" cy="264" r="8"/><text class="lb" x="843" y="267">TURKEY</text></g>
<g id="b-mexico"><circle class="mg" cx="1094" cy="310" r="12"/><text class="lb" x="1094" y="313">MEXICO</text></g>
<g id="b-south-africa"><circle class="mg" cx="818" cy="326" r="7"/><text class="lb" x="818" y="327">SOUTH AFRICA</text></g>
<g id="b-saudi-arabia"><circle class="mg" cx="824" cy="395" r="9"/><text class="lb" x="824" y="397">SAUDI ARABIA</text></g>
<g id="b-oil"><circle class="gn" cx="1089" cy="396" r="8"/><text class="lb" x="1089" y="399">OIL</text></g>
<g id="b-brazil"><circle class="mg" cx="1237" cy="394" r="10"/><text class="lb" x="1232" y="397">BRAZIL</text></g>
<g id="b-germany"><circle class="gn" cx="683" cy="413" r="16"/><text class="lb" x="683" y="416">GERMANY</text></g>
<g id="b-korea"><circle class="mg" cx="1044" cy="459" r="10"/><text class="lb" x="1044" y="462">REPUBLIC of KOREA</text></g>
<g id="b-russia"><circle class="gn" cx="916" cy="482" r="22"/><text class="lb" x="916" y="485">RUSSIA</text></g>
<g id="b-canada"><circle class="mg" cx="1195" cy="501" r="10"/><text class="lb" x="1195" y="504">CANADA</text></g>
<g id="b-france"><circle class="gn" cx="789" cy="574" r="15"/><text class="lb" x="789" y="577">FRANCE</text></g>
<g id="b-china"><circle class="mg" cx="1110" cy="586" r="10"/><text class="lb" x="1110" y="589">CHINA</text></g>
<g id="b-eu"><circle class="gn" cx="962" cy="629" r="14"/><text class="lb" x="962" y="632">EUROPEAN UNION</text></g>
</svg>
